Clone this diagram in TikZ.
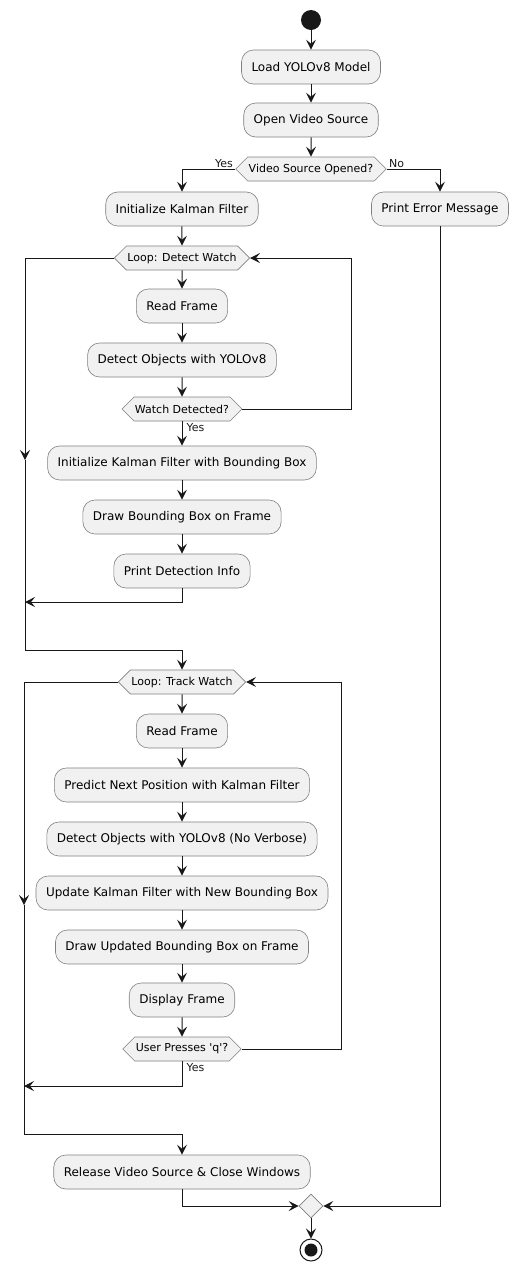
\documentclass[tikz,border=0pt]{standalone}
\usepackage{fontspec}
\setmainfont{DejaVu Sans}
\usetikzlibrary{arrows.meta,shapes.symbols,shapes.geometric}
\definecolor{boxfill}{HTML}{F1F1F1}
\definecolor{boxline}{HTML}{808080}
\definecolor{ink}{HTML}{181818}
\begin{document}
\begin{tikzpicture}[x=1pt,y=-1pt,
 act/.style={draw=boxline, fill=boxfill, rounded corners=12pt, minimum height=34pt, inner xsep=10pt, inner ysep=0pt, font=\fontsize{12}{14}\selectfont, line width=0.6pt},
 hex/.style={draw=boxline, fill=boxfill, signal, signal to=east and west, signal pointer angle=90, minimum height=24pt, inner xsep=1pt, inner ysep=0pt, font=\fontsize{11}{13}\selectfont, line width=0.6pt},
 flow/.style={draw=ink, line width=1pt},
 arr/.style={flow, -{Stealth[length=10pt,width=10pt,inset=4pt]}},
 lbl/.style={font=\fontsize{11}{13}\selectfont, inner sep=1pt, text=ink}
]
\useasboundingbox (0,0) rectangle (519,1270);

\node[circle, fill=ink, minimum size=20pt, inner sep=0pt] (start) at (311,20) {};
\node[act] (load) at (311,67) {Load YOLOv8 Model};
\node[act] (open) at (311,120) {Open Video Source};
\node[hex] (vso) at (311,169) {Video Source Opened?};
\node[act] (ikf) at (182,209) {Initialize Kalman Filter};
\node[act] (pem) at (440,209) {Print Error Message};
\node[hex] (ldw) at (182,258) {Loop: Detect Watch};
\node[act] (rf1) at (182,306) {Read Frame};
\node[act] (do1) at (182,360) {Detect Objects with YOLOv8};
\node[hex] (wd) at (182,409) {Watch Detected?};
\node[act] (ikb) at (182,463) {Initialize Kalman Filter with Bounding Box};
\node[act] (dbb) at (182,517) {Draw Bounding Box on Frame};
\node[act] (pdi) at (182,571) {Print Detection Info};
\node[hex] (ltw) at (182,682) {Loop: Track Watch};
\node[act] (rf2) at (182,731) {Read Frame};
\node[act] (pnp) at (182,785) {Predict Next Position with Kalman Filter};
\node[act] (do2) at (182,839) {Detect Objects with YOLOv8 (No Verbose)};
\node[act] (ukf) at (182,893) {Update Kalman Filter with New Bounding Box};
\node[act] (dub) at (182,947) {Draw Updated Bounding Box on Frame};
\node[act] (dfr) at (182,1000) {Display Frame};
\node[hex] (upq) at (182,1049) {User Presses \textquotesingle q\textquotesingle ?};
\node[act] (rel) at (182,1172) {Release Video Source \& Close Windows};
\node[diamond, draw=boxline, fill=boxfill, line width=0.6pt, minimum size=24pt, inner sep=0pt] (merge) at (311,1206) {};
\node[circle, draw=ink, line width=1pt, fill=white, minimum size=22pt, inner sep=0pt] (end) at (311,1250) {};
\fill[ink] (end.center) circle (6.5pt);

\coordinate (r1) at (351,0);
\coordinate (r2) at (341,0);
\coordinate (la) at (25,460);
\coordinate (lb) at (25,650);
\coordinate (ja) at (25,602);
\coordinate (lc) at (24,905);
\coordinate (ld) at (24,1134);
\coordinate (jb) at (24,1086);

\draw[arr] (start) -- (load);
\draw[arr] (load) -- (open);
\draw[arr] (open) -- (vso);
\draw[arr] (vso.west) -| node[lbl, pos=0, anchor=south east, xshift=-1pt] {Yes} (ikf.north);
\draw[arr] (vso.east) -| node[lbl, pos=0, anchor=south west, xshift=1pt] {No} (pem.north);
\draw[arr] (ikf) -- (ldw);
\draw[arr] (ldw) -- (rf1);
\draw[arr] (rf1) -- (do1);
\draw[arr] (do1) -- (wd);
\draw[arr] (wd.east) -- (wd.east -| r1) -- (ldw.east -| r1) -- (ldw.east);
\draw[arr] (wd.south) -- node[lbl, pos=0, anchor=north west, xshift=3pt, yshift=-1pt] {Yes} (ikb.north);
\draw[arr] (ikb) -- (dbb);
\draw[arr] (dbb) -- (pdi);
\draw[arr] (pdi.south) |- (ja);
\draw[arr] (ldw.west) -| (la);
\draw[arr] (la) -- (lb) -| (ltw.north);

\draw[arr] (ltw) -- (rf2);
\draw[arr] (rf2) -- (pnp);
\draw[arr] (pnp) -- (do2);
\draw[arr] (do2) -- (ukf);
\draw[arr] (ukf) -- (dub);
\draw[arr] (dub) -- (dfr);
\draw[arr] (dfr) -- (upq);
\draw[arr] (upq.east) -- (upq.east -| r2) -- (ltw.east -| r2) -- (ltw.east);
\draw[arr] (upq.south) |- node[lbl, pos=0, anchor=north west, xshift=3pt, yshift=-1pt] {Yes} (jb);
\draw[arr] (ltw.west) -| (lc);
\draw[arr] (lc) -- (ld) -| (rel.north);

\draw[arr] (rel.south) |- (merge.west);
\draw[arr] (pem.south) |- (merge.east);
\draw[arr] (merge) -- (end);
\end{tikzpicture}
\end{document}
